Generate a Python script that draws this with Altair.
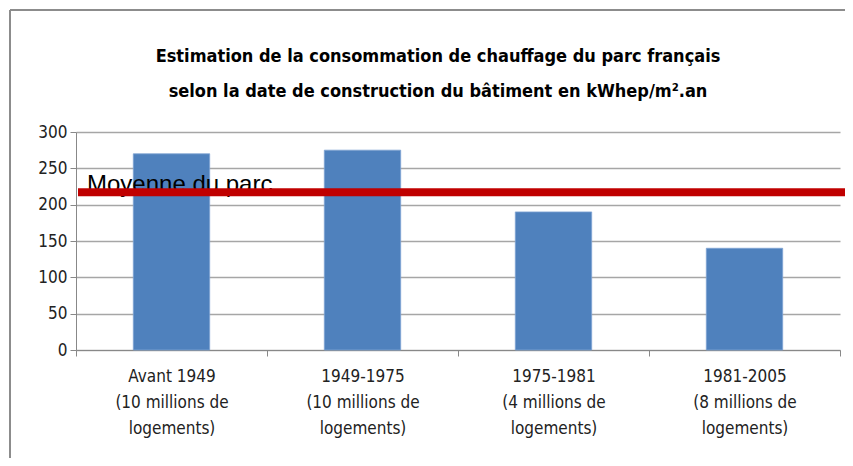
import altair as alt
import pandas as pd

categories = ["Avant 1949\n(10 millions de\nlogements)",
              "1949-1975\n(10 millions de\nlogements)",
              "1975-1981\n(4 millions de\nlogements)",
              "1981-2005\n(8 millions de\nlogements)"]
values = [270, 275, 190, 140]
moyenne = 217
moyenne_label = "Moyenne du parc"
title_lines = ["Estimation de la consommation de chauffage du parc français",
               "selon la date de construction du bâtiment en kWhep/m².an"]
y_ticks = [0, 50, 100, 150, 200, 250, 300]

df = pd.DataFrame({"cat": categories, "val": values})
NARROW = "Liberation Sans Narrow, DejaVu Sans Condensed, sans-serif"

W, H = 764, 218

y_scale = alt.Scale(domain=[0, 300])
y_axis = alt.Axis(values=y_ticks, tickSize=6,
                  domainColor="#888888", tickColor="#888888",
                  gridColor="#A6A6A6", gridWidth=1.5,
                  labelFont=NARROW, labelFontSize=17, labelColor="#222222",
                  labelPadding=3)

bars = alt.Chart(df).mark_bar(color="#4F81BD", stroke="#7FA3D3", strokeWidth=0.8,
                              width=alt.RelativeBandSize(0.4)).encode(
    x=alt.X("cat:N", sort=categories, title=None,
            scale=alt.Scale(paddingInner=0, paddingOuter=0),
            axis=alt.Axis(labelAngle=0, labelExpr="split(datum.label, '\\n')",
                          labelLineHeight=26, labelPadding=12, tickBand="extent",
                          tickSize=6, domainColor="#888888", tickColor="#888888",
                          labelFont=NARROW, labelFontSize=17, labelColor="#222222",
                          grid=False)),
    y=alt.Y("val:Q", title=None, scale=y_scale, axis=y_axis),
)

mdf = pd.DataFrame({"m": [moyenne], "t": [moyenne_label]})

label = alt.Chart(mdf).mark_text(align="left", baseline="alphabetic", fontSize=24,
                                 font="Liberation Sans, Arial, sans-serif",
                                 color="#000000", dy=0).encode(
    x=alt.value(11), y=alt.Y("m:Q", title=None, scale=y_scale, axis=y_axis), text="t:N")

rule = alt.Chart(mdf).mark_rule(color="#C00000", strokeWidth=8).encode(
    x=alt.value(2), x2=alt.value(W + 5),
    y=alt.Y("m:Q", title=None, scale=y_scale, axis=y_axis))

frame_v = alt.Chart(mdf).mark_rule(color="#8C8C8C", strokeWidth=2).encode(
    x=alt.value(-66), y=alt.value(-122), y2=alt.value(H + 120))
frame_h = alt.Chart(mdf).mark_rule(color="#8C8C8C", strokeWidth=2).encode(
    x=alt.value(-66), x2=alt.value(W + 20), y=alt.value(-122))

chart = alt.layer(bars, label, rule, frame_v, frame_h).properties(
    width=W, height=H,
    title=alt.TitleParams(title_lines, font=NARROW, fontSize=18, fontWeight="bold",
                          lineHeight=35, offset=-92, anchor="middle", dx=-20,
                          color="#000000"),
    autosize=alt.AutoSizeParams(type="none"),
    padding={"left": 68, "top": 124, "right": 5, "bottom": 108},
).configure(background="white").configure_view(stroke=None)

chart.save("out.html", embed_options={"renderer": "svg", "actions": False})
